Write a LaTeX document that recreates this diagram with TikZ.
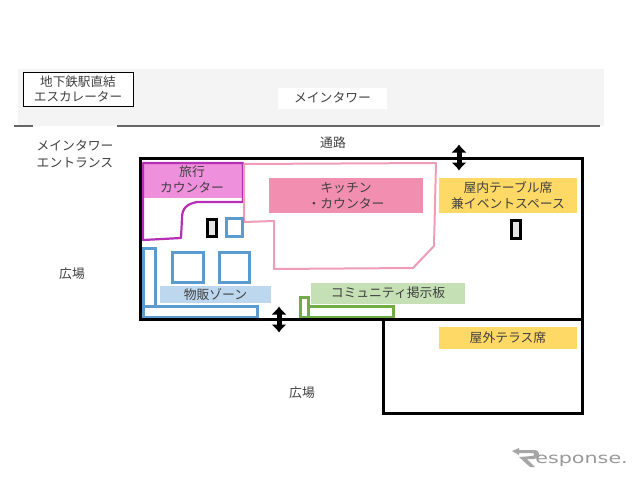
\documentclass[tikz,border=0pt]{standalone}
\usepackage{fontspec}
\setmainfont{Noto Sans CJK JP}
\newfontfamily\logofont[Scale=1]{DejaVu Sans}
\usetikzlibrary{arrows.meta}
\definecolor{txt}{HTML}{404040}
\definecolor{band}{HTML}{F4F4F4}
\definecolor{blueline}{HTML}{5B9BD0}
\definecolor{bluefill}{HTML}{BDD7EE}
\definecolor{greenline}{HTML}{70AD47}
\definecolor{greenfill}{HTML}{C5E0B4}
\definecolor{yel}{HTML}{FFD966}
\definecolor{kitfill}{HTML}{F28FB0}
\definecolor{kitline}{HTML}{EE9CB8}
\definecolor{travfill}{HTML}{EE90DC}
\definecolor{travline}{HTML}{B52FB5}
\tikzset{
 x=1pt,y=-1pt,
 lab/.style={text=txt,font=\fontsize{12.8}{16}\selectfont,align=center,inner sep=0pt},
 wall/.style={draw=black,line width=3pt,line join=miter},
 blue box/.style={draw=blueline,line width=3pt},
 green box/.style={draw=greenline,line width=3pt},
 pillar/.style={draw=black,line width=3pt,fill=black!10},
 door/.style={line width=5pt,{Latex[length=8pt,width=16pt]}-{Latex[length=8pt,width=16pt]},black},
}
\begin{document}
\begin{tikzpicture}
\useasboundingbox (0,0) rectangle (640,480);
% band
\fill[band] (18,69) rectangle (604,126);
\draw[black!60,line width=1.2pt] (14,126) -- (33,126);
\draw[black!60,line width=1.2pt] (117,126) -- (600,126);
\node[lab,fill=white,minimum width=109pt,minimum height=21pt] (tower) at (332.5,98) {メインタワー};
\node[lab,draw=black,line width=1pt,fill=white,minimum width=110pt,minimum height=34pt,font=\fontsize{12.6}{15.5}\selectfont] (esc) at (78,89) {地下鉄駅直結\\エスカレーター};
\node[lab,font=\fontsize{12.8}{16.5}\selectfont] (ent) at (75,154) {メインタワー\\エントランス};
\node[lab] (road) at (333,143) {通路};
\node[lab] (plazaA) at (72,274) {広場};
\node[lab] (plazaB) at (302,393) {広場};
% coloured fills with labels
\fill[travfill] (143,163) rectangle (243,198);
\node[lab,font=\fontsize{12.8}{15.5}\selectfont] (travel) at (192,179.5) {旅行\\カウンター};
\node[lab,fill=kitfill,minimum width=154pt,minimum height=35pt,font=\fontsize{12.8}{16}\selectfont] (kitchen) at (346,195.5) {キッチン\\・カウンター};
\node[lab,fill=yel,minimum width=138pt,minimum height=35pt,font=\fontsize{12.8}{16}\selectfont] (indoor) at (508,195.5) {屋内テーブル席\\兼イベントスペース};
\node[lab,fill=yel,minimum width=138pt,minimum height=22pt] (outdoor) at (508,338) {屋外テラス席};
\node[lab,fill=greenfill,minimum width=154pt,minimum height=21pt] (board) at (388,293) {コミュニティ掲示板};
\node[lab,fill=bluefill,minimum width=111pt,minimum height=17pt] (sales) at (215.5,294.5) {物販ゾーン};
% outlines
\draw[travline,line width=2.2pt,line join=round] (143,163) -- (243,163) -- (243,202) -- (197,202)
  .. controls (187,204) and (182,208) .. (182,218) -- (181,238) -- (143,240) -- cycle;
\draw[kitline,line width=2pt,line join=round] (244,164) -- (436,163) -- (434,246) -- (413,268) -- (274,269) -- (274,221) -- (244,222) -- cycle;
% shop fixtures
\draw[blue box] (143,248) rectangle (155,306);
\draw[blue box] (143,306) rectangle (257,317);
\draw[blue box] (172,252) rectangle (203,282);
\draw[blue box] (219,252) rectangle (249,282);
\draw[blue box] (226,218) rectangle (242,236);
\draw[green box] (300,297) rectangle (308,317);
\draw[green box] (308,306) rectangle (393,317);
\draw[pillar] (207,219) rectangle (216,236);
\draw[pillar] (511,220) rectangle (520,238);
% walls
\draw[wall] (140,158) rectangle (582,319);
\draw[wall] (383,319) rectangle (582,413);
% doors
\coordinate (doorAt) at (459,144.5);
\coordinate (doorAb) at (459,170.5);
\coordinate (doorBt) at (279,306.5);
\coordinate (doorBb) at (279,332.5);
\draw[door] (doorAt) -- (doorAb);
\draw[door] (doorBt) -- (doorBb);
% logo
\fill[black!35] (512,451) -- (519,448) -- (519,450) -- (534,450) .. controls (541,450) and (541,458) .. (534,459) -- (527,459) -- (535,467) -- (530,467) -- (519,457) -- (532,456) .. controls (535,456) and (535,453) .. (532,453) -- (519,453) -- (519,455) -- cycle;
\node[inner sep=0pt,anchor=west,text=black!40,xscale=1.38,font=\logofont\fontsize{15}{15}\selectfont] (logo) at (535,461) {esponse.};
\end{tikzpicture}
\end{document}
